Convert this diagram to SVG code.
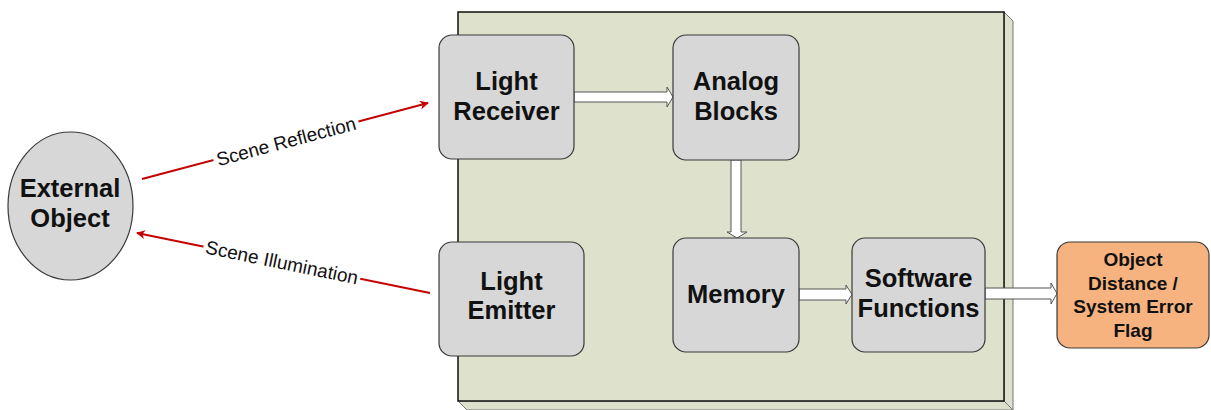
<svg xmlns="http://www.w3.org/2000/svg" width="1211" height="410" viewBox="0 0 1211 410">
<style>
.node{fill:#d7d7d7;stroke:#3a3a3a;stroke-width:1.2}
.out{fill:#f6b27f;stroke:#3a3a3a;stroke-width:1.2}
.t{font-family:"Liberation Sans",Arial,sans-serif;font-weight:bold;font-size:25.5px;fill:#111;text-anchor:middle}
.ts{font-family:"Liberation Sans",Arial,sans-serif;font-weight:bold;font-size:19px;fill:#111;text-anchor:middle}
.lbl{font-family:"Liberation Sans",Arial,sans-serif;font-size:19px;fill:#111;text-anchor:middle}
.red{stroke:#c40000;stroke-width:2;fill:none}
.blk{fill:#fff;stroke:#555;stroke-width:1}
</style>
<defs>
<marker id="ah" viewBox="0 0 10 10" refX="9" refY="5" markerWidth="9" markerHeight="9" orient="auto" markerUnits="userSpaceOnUse">
<path d="M0,0 L10,5 L0,10 L3,5 Z" fill="#c40000"/>
</marker>
</defs>
<g id="system">
<polygon points="1004,12 1013,21 1013,410 1004,401" fill="#dde0ca" stroke="#777" stroke-width="1"/>
<polygon points="458,401 1004,401 1013,410 467,410" fill="#dde0ca" stroke="#777" stroke-width="1"/>
<rect x="458" y="12" width="546" height="389" fill="#dee1cb" stroke="#111" stroke-width="1.5"/>
</g>
<g id="connectors">
<line class="red" x1="142" y1="179" x2="428" y2="103" marker-end="url(#ah)"/>
<line class="red" x1="430" y1="293" x2="137" y2="233" marker-end="url(#ah)"/>
<g transform="translate(286,141) rotate(-14.9)">
<rect x="-75" y="-11" width="150" height="22" fill="#fff"/>
<text class="lbl" x="0" y="7">Scene Reflection</text>
</g>
<g transform="translate(282,262) rotate(11.6)">
<rect x="-80" y="-11" width="160" height="22" fill="#fff"/>
<text class="lbl" x="0" y="7">Scene Illumination</text>
</g>
<polygon class="blk" points="574,92 667,92 667,87 673,97 667,107 667,102 574,102"/>
<polygon class="blk" points="731,160 741,160 741,232 747,232 737,238 727,232 731,232"/>
<polygon class="blk" points="799,289 846,289 846,285 852,294.5 846,304 846,300 799,300"/>
<polygon class="blk" points="985,288 1051,288 1051,283 1057,293.5 1051,304 1051,299 985,299"/>
</g>
<g id="external">
<ellipse cx="70.5" cy="206" rx="62.5" ry="74" class="node"/>
<text class="t" x="70" y="197">External</text>
<text class="t" x="70" y="227">Object</text>
</g>
<g id="receiver">
<rect x="439" y="35" width="135" height="124" rx="13" class="node"/>
<text class="t" x="506.5" y="90">Light</text>
<text class="t" x="506.5" y="120">Receiver</text>
</g>
<g id="analog">
<rect x="673" y="35" width="126" height="125" rx="13" class="node"/>
<text class="t" x="736" y="90">Analog</text>
<text class="t" x="736" y="120">Blocks</text>
</g>
<g id="emitter">
<rect x="439" y="242" width="145" height="114" rx="13" class="node"/>
<text class="t" x="511.5" y="290">Light</text>
<text class="t" x="511.5" y="319">Emitter</text>
</g>
<g id="memory">
<rect x="673" y="238" width="126" height="114" rx="13" class="node"/>
<text class="t" x="736" y="303">Memory</text>
</g>
<g id="software">
<rect x="852" y="238" width="133" height="114" rx="13" class="node"/>
<text class="t" x="918.5" y="287">Software</text>
<text class="t" x="918.5" y="317">Functions</text>
</g>
<g id="output">
<rect x="1057" y="242" width="152" height="106" rx="13" class="out"/>
<text class="ts" x="1133" y="266">Object</text>
<text class="ts" x="1133" y="290">Distance /</text>
<text class="ts" x="1133" y="313">System Error</text>
<text class="ts" x="1133" y="337">Flag</text>
</g>
</svg>
